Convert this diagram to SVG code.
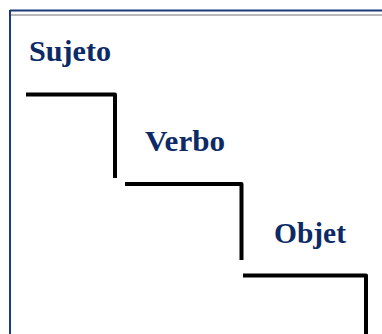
<svg xmlns="http://www.w3.org/2000/svg" width="382" height="334" viewBox="0 0 382 334">
  <style>
    .label { font-family: "Liberation Serif", "DejaVu Serif", serif; font-weight: bold; font-size: 30px; fill: #0b2a66; }
    .step { fill: none; stroke: #000; stroke-width: 4; stroke-linejoin: round; }
  </style>
  <rect width="382" height="334" fill="#fff"/>
  <!-- page frame -->
  <g id="frame">
    <line x1="10" y1="10.5" x2="382" y2="10.5" stroke="#1c3a7a" stroke-width="2"/>
    <line x1="11" y1="15" x2="382" y2="15" stroke="#b8b8b8" stroke-width="2"/>
    <line x1="10" y1="10" x2="10" y2="334" stroke="#1c3a7a" stroke-width="2"/>
  </g>
  <!-- staircase -->
  <g id="connectors">
    <path class="step" d="M26 94.5 H115 V178"/>
    <path class="step" d="M125 184 H241.5 V260"/>
    <path class="step" d="M243 275.5 H366 V334"/>
  </g>
  <g id="sujeto"><text class="label" x="29" y="61" textLength="82" lengthAdjust="spacingAndGlyphs">Sujeto</text></g>
  <g id="verbo"><text class="label" x="145" y="151" textLength="80" lengthAdjust="spacingAndGlyphs">Verbo</text></g>
  <g id="objet"><text class="label" x="274" y="243" textLength="72" lengthAdjust="spacingAndGlyphs">Objet</text></g>
</svg>
